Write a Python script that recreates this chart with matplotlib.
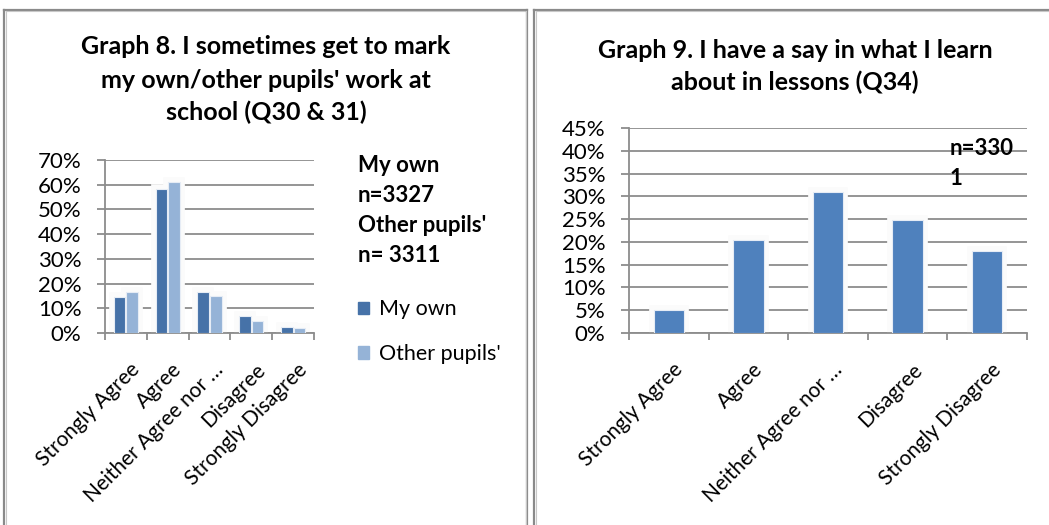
import numpy as np
import matplotlib
matplotlib.use("Agg")
import matplotlib.pyplot as plt
import matplotlib.transforms as mtransforms
from matplotlib.lines import Line2D

plt.rcParams['font.family'] = ['Lato', 'DejaVu Sans']

categories = ['Strongly Agree', 'Agree', 'Neither Agree nor …', 'Disagree', 'Strongly Disagree']

# Graph 8 - marking own / other pupils' work (%)
my_own = [14.7, 58.4, 16.7, 6.9, 2.4]
other_pupils = [16.4, 60.9, 15.1, 4.9, 2.0]

# Graph 9 - say in what I learn (%)
have_say = [5.0, 20.4, 31.0, 24.8, 18.0]

grid_col = '#8c8c8c'
dark_blue = '#4672a8'
light_blue = '#95b3d7'
mid_blue = '#4f81bd'

fig = plt.figure(figsize=(10.49, 5.25), dpi=100)
W, H = 1049, 525


def fx(px):
    return px / W


def fy(py):
    return 1 - py / H


def glow_bar(ax, x, h, w, color):
    # white halo behind each bar so the grid breaks around it
    ax.bar(x, h, w, color=color, edgecolor='#fbfbfb', linewidth=7, zorder=2)
    ax.bar(x, h, w, color=color, edgecolor='#e6ecf5', linewidth=0.8, zorder=3)


def style_axes(ax, ymax, step):
    ax.set_ylim(0, ymax)
    ax.set_xlim(-0.5, len(categories) - 0.5)
    ax.set_yticks(np.arange(0, ymax + 0.01, step))
    ax.set_yticklabels(['%d%%' % v for v in np.arange(0, ymax + 0.01, step)], fontsize=16)
    ax.yaxis.grid(True, color=grid_col, linewidth=1.3, zorder=0)
    ax.set_axisbelow(True)
    for s in ['top', 'right']:
        ax.spines[s].set_visible(False)
    for s in ['left', 'bottom']:
        ax.spines[s].set_color(grid_col)
        ax.spines[s].set_linewidth(1.3)
    ax.tick_params(axis='y', length=6, width=1.3, color=grid_col, pad=11)
    # category boundaries as tick marks, labels centred under each bar group
    ax.set_xticks(np.arange(-0.5, len(categories), 1.0))
    ax.set_xticklabels([])
    ax.tick_params(axis='x', length=5, width=1.3, color=grid_col, direction='out')
    ax.set_xticks(np.arange(len(categories)), minor=True)
    ax.set_xticklabels(categories, minor=True, rotation=45, ha='right',
                       rotation_mode='anchor', fontsize=15)
    ax.tick_params(axis='x', which='minor', length=0, pad=19)
    shift = mtransforms.ScaledTranslation(4 / 100, 0, fig.dpi_scale_trans)
    for lab in ax.get_xticklabels(minor=True):
        lab.set_transform(lab.get_transform() + shift)


# left chart
ax1 = fig.add_axes([fx(105), fy(333), fx(314) - fx(105), fy(160) - fy(333)])
x = np.arange(len(categories))
bw = 0.28
for i in range(len(categories)):
    glow_bar(ax1, x[i] - bw / 2 - 0.01, my_own[i], bw, dark_blue)
    glow_bar(ax1, x[i] + bw / 2 + 0.01, other_pupils[i], bw, light_blue)
style_axes(ax1, 70, 10)

title_kw = dict(ha='center', va='center', fontsize=18, fontweight='bold')
fig.text(fx(266), fy(47), "Graph 8. I sometimes get to mark", **title_kw)
fig.text(fx(266), fy(80), "my own/other pupils' work at", **title_kw)
fig.text(fx(266), fy(112), "school (Q30 & 31)", **title_kw)

for txt, yy in [("My own", 165), ("n=3327", 196), ("Other pupils'", 226), ("n= 3311", 256)]:
    fig.text(fx(358), fy(yy), txt, ha='left', va='center', fontsize=16, fontweight='bold')

handles = [plt.Rectangle((0, 0), 1, 1, color=dark_blue),
           plt.Rectangle((0, 0), 1, 1, color=light_blue)]
fig.legend(handles, ['My own', "Other pupils'"], loc='upper left',
           bbox_to_anchor=(fx(339), fy(280)), frameon=False, fontsize=15.5,
           handlelength=0.5, handleheight=0.5, handletextpad=0.45, labelspacing=1.15)

# right chart
ax2 = fig.add_axes([fx(629), fy(333), fx(1027) - fx(629), fy(128) - fy(333)])
for i in range(len(categories)):
    glow_bar(ax2, x[i], have_say[i], 0.38, mid_blue)
style_axes(ax2, 45, 5)
ax2.text(0.805, 0.9, "n=330", transform=ax2.transAxes, fontsize=16,
         fontweight='bold', va='center', ha='left')
ax2.text(0.805, 0.755, "1", transform=ax2.transAxes, fontsize=16,
         fontweight='bold', va='center', ha='left')

fig.text(fx(795), fy(50), "Graph 9. I have a say in what I learn", **title_kw)
fig.text(fx(795), fy(82), "about in lessons (Q34)", **title_kw)

# panel borders
frame_col = '#8a8a8a'
inner_col = '#c8c8c8'
for x0, x1 in [(4, 527), (534, 1060)]:
    fig.add_artist(Line2D([fx(x0), fx(x1)], [fy(9.5), fy(9.5)], color=frame_col, lw=1.6))
    fig.add_artist(Line2D([fx(x0 + 1.5), fx(x1 - 1.5)], [fy(11), fy(11)], color=inner_col, lw=0.8))
    fig.add_artist(Line2D([fx(x0), fx(x0)], [fy(9.5), fy(530)], color=frame_col, lw=1.6))
    fig.add_artist(Line2D([fx(x0 + 1.5), fx(x0 + 1.5)], [fy(11), fy(530)], color=inner_col, lw=0.8))
    if x1 < W:
        fig.add_artist(Line2D([fx(x1), fx(x1)], [fy(9.5), fy(530)], color=frame_col, lw=1.6))
        fig.add_artist(Line2D([fx(x1 - 1.5), fx(x1 - 1.5)], [fy(11), fy(530)], color=inner_col, lw=0.8))

fig.savefig('out.png', dpi=100)
